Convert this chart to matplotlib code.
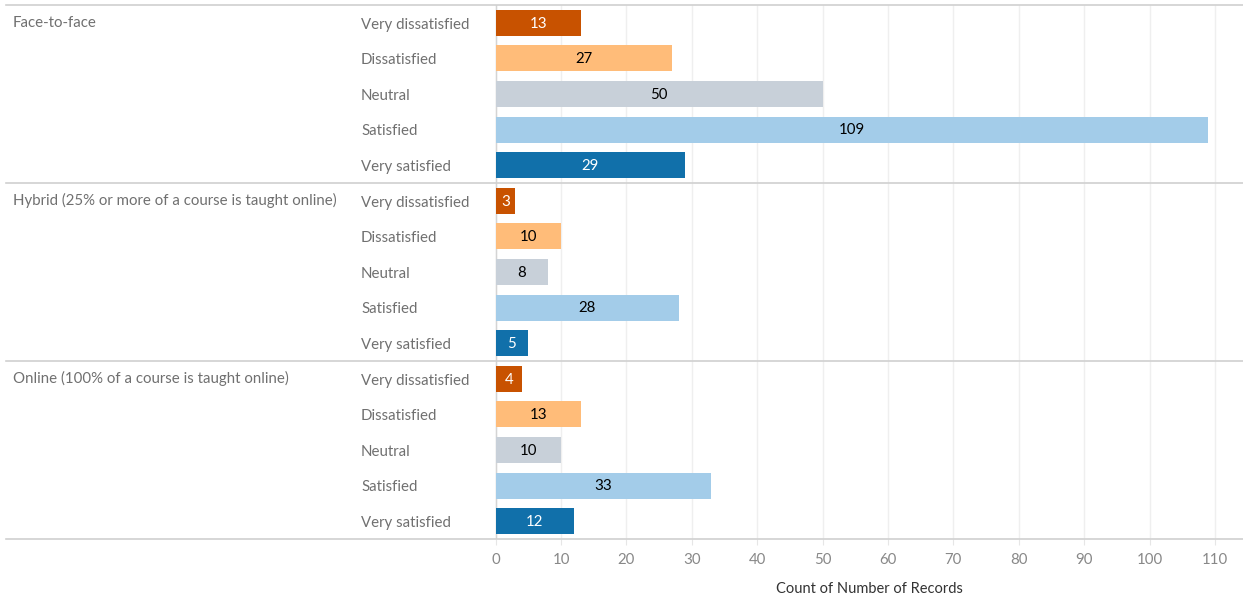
import matplotlib
matplotlib.use("Agg")
import matplotlib.pyplot as plt
import matplotlib.transforms as mtransforms
from matplotlib.lines import Line2D

groups = ["Face-to-face",
          "Hybrid (25% or more of a course is taught online)",
          "Online (100% of a course is taught online)"]
levels = ["Very dissatisfied", "Dissatisfied", "Neutral", "Satisfied", "Very satisfied"]
values = {
    "Face-to-face": [13, 27, 50, 109, 29],
    "Hybrid (25% or more of a course is taught online)": [3, 10, 8, 28, 5],
    "Online (100% of a course is taught online)": [4, 13, 10, 33, 12],
}
colors = ["#c85200", "#ffbc79", "#c8d0d9", "#a3cce9", "#1170aa"]
label_colors = ["white", "black", "black", "black", "white"]
xticks = list(range(0, 111, 10))
xlabel = "Count of Number of Records"

plt.rcParams['font.family'] = ['Lato', 'DejaVu Sans']

W, H = 1243, 597
fig = plt.figure(figsize=(W / 100, H / 100), dpi=100)
ax = fig.add_axes([495 / W, 1 - 539 / H, (W - 495) / W, (539 - 5) / H])

nrows = len(groups) * len(levels)
ax.set_ylim(nrows, 0)
ax.set_xlim(-0.1, 114.3)

row = 0
for g in groups:
    for i, lev in enumerate(levels):
        v = values[g][i]
        ax.barh(row + 0.5, v, height=0.73, color=colors[i], zorder=3)
        ax.text(v / 2, row + 0.52, str(v), ha="center", va="center",
                color=label_colors[i], fontsize=10.8, zorder=4)
        row += 1

for s in ax.spines.values():
    s.set_visible(False)

ax.set_xticks(xticks)
ax.set_xticklabels([str(t) for t in xticks], color="#888888", fontsize=10.8)
ax.tick_params(axis="x", length=4, color="#e6e6e6", pad=6)
ax.set_yticks([])
ax.grid(axis="x", color="#efefef", linewidth=1, zorder=0)
ax.set_xlabel(xlabel, fontsize=10.5, color="#333333", labelpad=11)

# zero line
ax.axvline(0, color="#d4d4d4", linewidth=1, zorder=2)

# row labels and group labels
trans_lab = mtransforms.blended_transform_factory(fig.transFigure, ax.transData)
row = 0
for g in groups:
    ax.text(13 / W, row + 0.5, g, transform=trans_lab, ha="left", va="center",
            fontsize=10.8, color="#707070", clip_on=False)
    for i, lev in enumerate(levels):
        ax.text(361 / W, row + i + 0.55, lev, transform=trans_lab, ha="left",
                va="center", fontsize=10.8, color="#707070", clip_on=False)
    row += len(levels)

# horizontal separators
for k in range(len(groups) + 1):
    y = k * len(levels)
    ax.add_line(Line2D([6 / W, 1.0], [y, y], transform=trans_lab,
                       color="#d0d0d0", linewidth=1.2, clip_on=False, zorder=5))

fig.savefig("out.png", dpi=100)
